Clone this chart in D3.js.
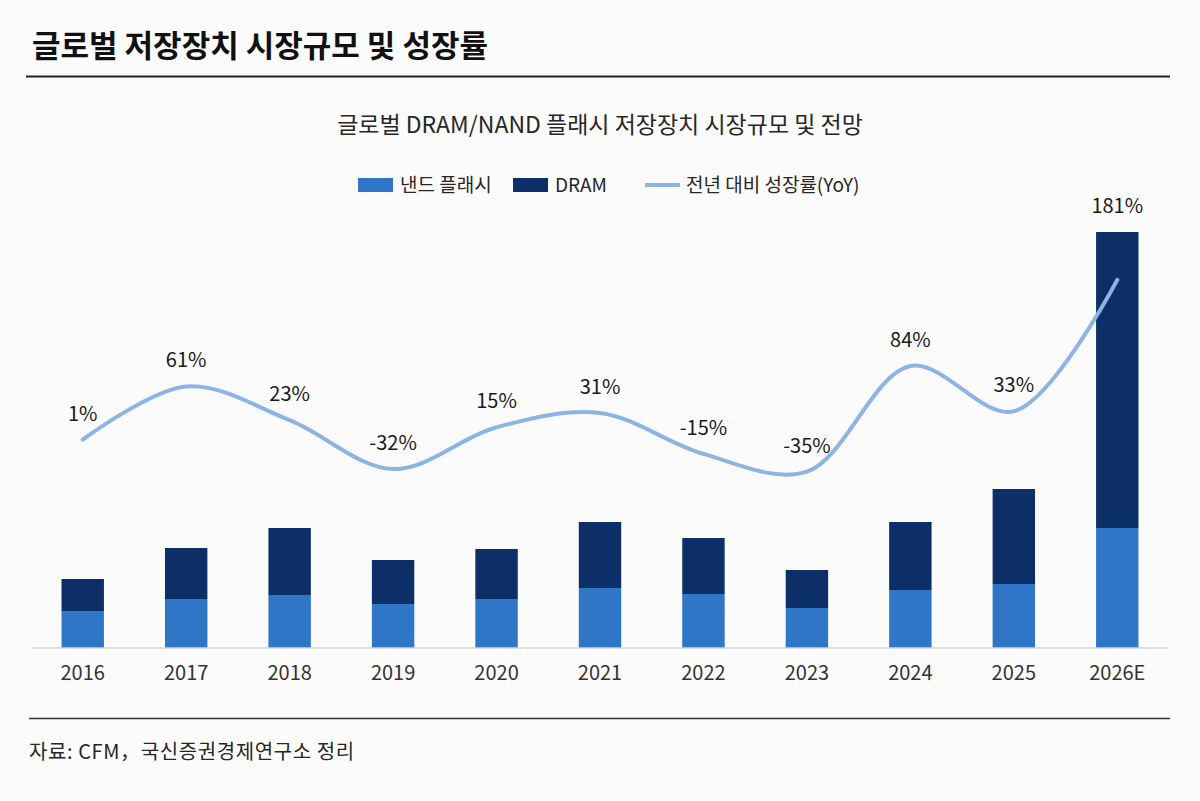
<!DOCTYPE html>
<html>
<head>
<meta charset="utf-8">
<script src="https://cdn.jsdelivr.net/npm/d3@7"></script>
<style>
  body { margin: 0; background: #fbfbfb; }
  text { font-family: "Noto Sans CJK KR", "Noto Sans", sans-serif; }
</style>
</head>
<body>
<div id="chart"></div>
<script>
// data (bar heights in arbitrary market-size units)
var years = ['2016', '2017', '2018', '2019', '2020', '2021', '2022', '2023', '2024', '2025', '2026E'];
var nand = [37, 49, 53, 44, 49, 60, 54, 40, 58, 64, 120];
var dram = [32, 51, 67, 44, 50, 66, 56, 38, 68, 95, 296];
var growth = [1, 61, 23, -32, 15, 31, -15, -35, 84, 33, 181];

var colors = { nand: '#2f76c6', dram: '#0b2f66', line: '#8db4e2' };
var width = 1200, height = 801;

var svg = d3.select('#chart').append('svg')
    .attr('width', width)
    .attr('height', height);

// title + rules
svg.append('text')
    .attr('x', 32).attr('y', 57)
    .style('font-size', '31px').style('font-weight', 'bold').style('fill', '#111')
    .text('글로벌 저장장치 시장규모 및 성장률');
svg.append('line')
    .attr('x1', 26).attr('x2', 1170).attr('y1', 76.5).attr('y2', 76.5)
    .style('stroke', '#222').style('stroke-width', 2);
svg.append('line')
    .attr('x1', 29).attr('x2', 1170).attr('y1', 718.5).attr('y2', 718.5)
    .style('stroke', '#333').style('stroke-width', 1.6);

svg.append('text')
    .attr('x', 600).attr('y', 133)
    .attr('text-anchor', 'middle')
    .style('font-size', '23px').style('fill', '#262626')
    .text('글로벌 DRAM/NAND 플래시 저장장치 시장규모 및 전망');

svg.append('text')
    .attr('x', 29).attr('y', 759)
    .style('font-size', '20px').style('fill', '#262626')
    .style('letter-spacing', '0.6px')
    .text('자료: CFM，국신증권경제연구소 정리');

// legend
var legend = svg.append('g').attr('transform', 'translate(0,185)');
legend.append('rect').attr('x', 358).attr('y', -7).attr('width', 35).attr('height', 14).attr('fill', colors.nand);
legend.append('text').attr('x', 400).attr('y', 7).style('font-size', '19px').style('fill', '#262626').text('낸드 플래시');
legend.append('rect').attr('x', 513).attr('y', -7).attr('width', 35).attr('height', 14).attr('fill', colors.dram);
legend.append('text').attr('x', 555).attr('y', 7).style('font-size', '19px').style('fill', '#262626').text('DRAM');
legend.append('line').attr('x1', 645).attr('x2', 680).attr('y1', 0).attr('y2', 0)
    .style('stroke', colors.line).style('stroke-width', 4);
legend.append('text').attr('x', 686).attr('y', 7).style('font-size', '19px').style('fill', '#262626').text('전년 대비 성장률(YoY)');

// scales
var x = d3.scaleBand().domain(years).range([31, 1169]).paddingInner(0.59).paddingOuter(0.295);
var y = d3.scaleLinear().domain([0, 460]).range([648, 188]);
var yGrowth = d3.scaleLinear().domain([-50, 200]).range([485, 263]);

var rows = years.map(function(yr, i) {
    return { year: yr, nand: nand[i], dram: dram[i], growth: growth[i] };
});
var stack = d3.stack().keys(['nand', 'dram'])(rows);

svg.append('g').selectAll('g')
    .data(stack)
    .enter().append('g')
    .attr('fill', function(d) { return colors[d.key]; })
    .selectAll('rect')
    .data(function(d) { return d; })
    .enter().append('rect')
    .attr('x', function(d) { return x(d.data.year); })
    .attr('width', x.bandwidth())
    .attr('y', function(d) { return y(d[1]); })
    .attr('height', function(d) { return y(d[0]) - y(d[1]); });

// baseline + category axis
var xAxis = svg.append('g')
    .attr('transform', 'translate(0,' + y(0) + ')')
    .call(d3.axisBottom(x).tickSize(0).tickPadding(18));
xAxis.select('.domain').style('stroke', '#d4d4d4').style('stroke-width', 1.5)
    .attr('d', 'M33,0H1167');
xAxis.selectAll('text')
    .style('font-size', '20px').style('fill', '#333')
    .style('font-family', '"Noto Sans CJK KR", "Noto Sans", sans-serif');

// growth line
var cx = function(d) { return x(d.year) + x.bandwidth() / 2; };
svg.append('path')
    .datum(rows)
    .attr('d', d3.line()
        .curve(d3.curveCatmullRom.alpha(0.5))
        .x(cx)
        .y(function(d) { return yGrowth(d.growth); })
    )
    .style('fill', 'none')
    .style('stroke', colors.line)
    .style('stroke-width', 4)
    .style('stroke-linecap', 'round');

svg.append('g').selectAll('text')
    .data(rows)
    .enter().append('text')
    .attr('x', cx)
    .attr('y', function(d) {
        return Math.min(yGrowth(d.growth), y(d.nand + d.dram)) - 19;
    })
    .attr('text-anchor', 'middle')
    .style('font-size', '20px').style('fill', '#1a1a1a')
    .text(function(d) { return d.growth + '%'; });
</script>
</body>
</html>
